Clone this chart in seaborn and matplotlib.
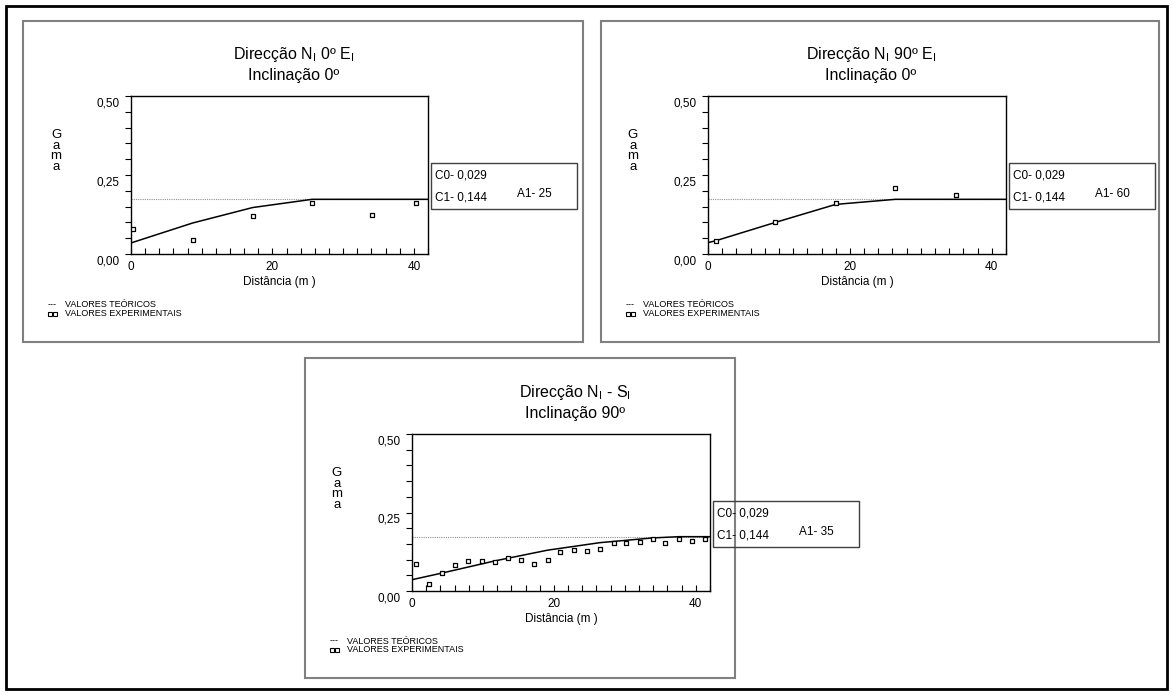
# Variogramas experimentais e teoricos - tres direccoes

import numpy as np
import matplotlib
matplotlib.use("Agg")
import matplotlib.pyplot as plt
import matplotlib.transforms as mtransforms
from matplotlib.patches import Rectangle
from matplotlib.lines import Line2D
import seaborn as sns

# -----------------------------
# Plot Settings
# -----------------------------
sns.set_style("white")
plt.rcParams["font.family"] = ["Liberation Sans", "DejaVu Sans"]
plt.rcParams["mathtext.fontset"] = "custom"
plt.rcParams["mathtext.rm"] = "Liberation Sans"
plt.rcParams["text.color"] = "black"
plt.rcParams["xtick.color"] = "black"
plt.rcParams["ytick.color"] = "black"

# -----------------------------
# Data
# -----------------------------
titles = ["Direcção N$_{\\rm I}$ 0º E$_{\\rm I}$\nInclinação 0º",
          "Direcção N$_{\\rm I}$ 90º E$_{\\rm I}$\nInclinação 0º",
          "Direcção N$_{\\rm I}$ - S$_{\\rm I}$\nInclinação 90º"]

c0_values = ["0,029", "0,029", "0,029"]
c1_values = ["0,144", "0,144", "0,144"]
a1_values = ["25", "60", "35"]
sill = [0.173, 0.173, 0.173]

# panel 1 : N 0 E
exp1_dist = [0.3, 8.7, 17.2, 25.6, 34.1, 40.3]
exp1_gamma = [0.078, 0.045, 0.119, 0.161, 0.123, 0.162]
mod1_dist = [0, 8.7, 17.2, 25.6, 42]
mod1_gamma = [0.035, 0.098, 0.147, 0.173, 0.173]

# panel 2 : N 90 E
exp2_dist = [1.1, 9.5, 18.0, 26.4, 34.9]
exp2_gamma = [0.041, 0.101, 0.160, 0.209, 0.188]
mod2_dist = [0, 1.1, 9.5, 18.0, 26.4, 42]
mod2_gamma = [0.036, 0.042, 0.100, 0.157, 0.173, 0.173]

# panel 3 : N - S
exp3_dist = [0.5, 2.4, 4.2, 6.1, 7.9, 9.8, 11.7, 13.6, 15.4, 17.2, 19.1, 20.9,
             22.8, 24.6, 26.5, 28.4, 30.2, 32.1, 33.9, 35.7, 37.6, 39.5, 41.3]
exp3_gamma = [0.087, 0.023, 0.057, 0.082, 0.096, 0.096, 0.092, 0.105, 0.099,
              0.086, 0.099, 0.123, 0.131, 0.128, 0.134, 0.152, 0.152, 0.157,
              0.166, 0.152, 0.166, 0.160, 0.166]
mod3_dist = [0, 4.2, 11.7, 19.1, 26.5, 33.9, 37.6, 42]
mod3_gamma = [0.036, 0.057, 0.096, 0.130, 0.154, 0.169, 0.173, 0.173]

exp_dist = [exp1_dist, exp2_dist, exp3_dist]
exp_gamma = [exp1_gamma, exp2_gamma, exp3_gamma]
mod_dist = [mod1_dist, mod2_dist, mod3_dist]
mod_gamma = [mod1_gamma, mod2_gamma, mod3_gamma]

# -----------------------------
# Layout (pixels of a 1173x695 picture)
# -----------------------------
W, H = 1173, 695
fig = plt.figure(figsize=(W / 100, H / 100), dpi=100)


def fx(x):
    return x / W


def fy(y):
    return 1 - y / H


# panel frame (x0, y0, x1, y1) and axes box (x0, y0, x1, y1)
panels = [(23, 21, 583, 342), (601, 21, 1159, 342), (305, 358, 735, 678)]
axes_box = [(131, 96, 428, 254), (708, 96, 1006, 254), (412, 434, 710, 591)]

# outer border
fig.add_artist(Rectangle((fx(6), fy(689)), fx(1161), 683 / H,
                         transform=fig.transFigure, fill=False,
                         edgecolor="black", linewidth=2))

offset = mtransforms.ScaledTranslation(0, -0.06, fig.dpi_scale_trans)

for i in range(3):
    px0, py0, px1, py1 = panels[i]
    fig.add_artist(Rectangle((fx(px0), fy(py1)), fx(px1 - px0), (py1 - py0) / H,
                             transform=fig.transFigure, fill=False,
                             edgecolor="#808080", linewidth=1.5))

    ax0, ay0, ax1, ay1 = axes_box[i]
    ax = fig.add_axes([fx(ax0), fy(ay1), fx(ax1 - ax0), (ay1 - ay0) / H])

    # sill (dotted) + model + experimental points
    ax.axhline(sill[i], color="#909090", linestyle=(0, (1, 1)), linewidth=0.8)
    sns.lineplot(x=mod_dist[i], y=mod_gamma[i], ax=ax, color="black",
                 linewidth=1.1, sort=False, estimator=None)
    sns.scatterplot(x=exp_dist[i], y=exp_gamma[i], ax=ax, marker="s", s=9,
                    facecolor="white", edgecolor="black", linewidth=0.9,
                    zorder=5)

    ax.set_xlim(0, 42)
    ax.set_ylim(0, 0.5)
    ax.set_xticks([0, 20, 40])
    ax.set_xticks(np.arange(0, 43, 2), minor=True)
    ax.set_yticks([0, 0.25, 0.5])
    ax.set_yticks(np.arange(0, 0.51, 0.05), minor=True)
    ax.set_xticklabels(["0", "20", "40"], fontsize=8.5)
    ax.set_yticklabels(["0,00", "0,25", "0,50"], fontsize=8.5)
    ax.tick_params(axis="x", which="both", bottom=True, direction="in",
                   length=4, width=0.8, pad=5, color="black")
    ax.tick_params(axis="y", which="both", left=True, direction="out",
                   length=4, width=0.8, pad=4, color="black")
    for lab in ax.get_yticklabels():
        lab.set_transform(lab.get_transform() + offset)
    for sp in ax.spines.values():
        sp.set_linewidth(1.0)
        sp.set_color("black")
    ax.set_xlabel("")
    ax.set_ylabel("")

    # title
    cx = (ax0 + ax1) / 2 + 14
    fig.text(fx(cx), fy(ay0 - 32), titles[i], ha="center", va="center",
             fontsize=11.5, linespacing=1.35)

    # vertical "Gama"
    fig.text(fx(ax0 - 75), fy(ay0 + 55), "G\na\nm\na", ha="center",
             va="center", fontsize=9.5, linespacing=0.85)

    # x label
    fig.text(fx((ax0 + ax1) / 2), fy(ay1 + 28), "Distância (m )",
             ha="center", va="center", fontsize=8.5)

    # parameter box
    bx0, by0 = ax1 + 3, ay0 + 67
    fig.add_artist(Rectangle((fx(bx0), fy(by0 + 46)), fx(146), 46 / H,
                             transform=fig.transFigure, fill=False,
                             edgecolor="#404040", linewidth=1.0))
    fig.text(fx(bx0 + 4), fy(by0 + 12), "C0- " + c0_values[i],
             ha="left", va="center", fontsize=8.5)
    fig.text(fx(bx0 + 4), fy(by0 + 34), "C1- " + c1_values[i],
             ha="left", va="center", fontsize=8.5)
    fig.text(fx(bx0 + 86), fy(by0 + 31), "A1- " + a1_values[i],
             ha="left", va="center", fontsize=8.5)

    # legend
    lx, ly = px0 + 25, py1 - 37
    fig.text(fx(lx), fy(ly), "---", ha="left", va="center", fontsize=6.5)
    fig.text(fx(lx + 17), fy(ly), "VALORES TEÓRICOS", ha="left",
             va="center", fontsize=6.5)
    fig.add_artist(Line2D([fx(lx + 2), fx(lx + 7)], [fy(ly + 9), fy(ly + 9)],
                          transform=fig.transFigure, linestyle="none",
                          marker="s", markersize=2.5, markerfacecolor="white",
                          markeredgecolor="black", markeredgewidth=0.8))
    fig.text(fx(lx + 17), fy(ly + 9), "VALORES EXPERIMENTAIS", ha="left",
             va="center", fontsize=6.5)

plt.savefig("out.png", dpi=100)
